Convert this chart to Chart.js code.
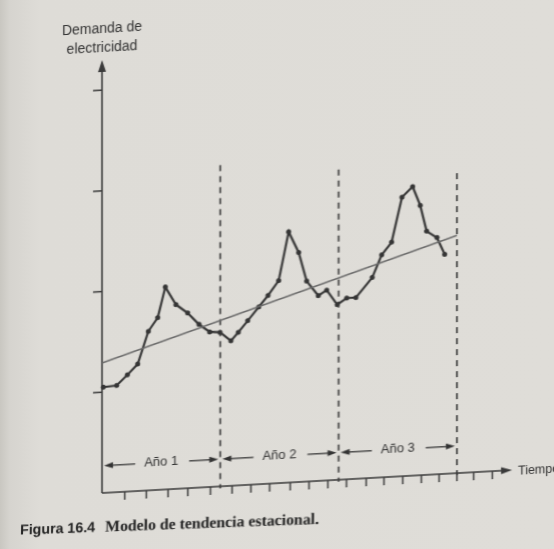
<!DOCTYPE html>
<html><head><meta charset="utf-8">
<script src="https://cdn.jsdelivr.net/npm/chart.js@4/dist/chart.umd.min.js"></script>
<style>
html,body{margin:0;padding:0;overflow:hidden;width:554px;height:549px;
background:linear-gradient(90deg,#c9c7c1 0px,#d6d4cf 10px,#dedcd7 40px,#dfddd8 100%);}
#wrap{position:absolute;left:0;top:0;width:554px;height:549px;transform-origin:102px 0;transform:skewY(-3.2deg);}
canvas{display:block;}
</style></head><body>
<div id="wrap"><canvas id="c" width="554" height="549"></canvas></div>
<script>
// Months since start (x) and electricity demand (y)
const months = [0.13,1.49,2.57,3.62,4.70,5.65,6.42,7.50,8.69,9.84,10.92,11.97,
                13.08,13.82,14.78,15.90,16.84,17.92,18.93,19.95,20.76,21.94,22.79,23.86,
                24.82,25.76,27.41,28.37,29.38,30.43,31.51,32.28,32.93,33.98,34.76];
const demand = [1.05,1.06,1.16,1.26,1.58,1.71,2.01,1.83,1.74,1.62,1.54,1.53,
                1.44,1.52,1.63,1.76,1.87,2.01,2.49,2.28,1.99,1.84,1.89,1.74,
                1.80,1.80,1.99,2.21,2.33,2.77,2.87,2.68,2.42,2.35,2.18];
const trendMonths = [0,36];
const trendValues = [1.29,2.36];
const yearBounds = [0,12,24,36];
const yearLabels = ['Año 1','Año 2','Año 3'];
const boundaryTops = [3.19,3.08,2.98];
const xTickMonths = [2.3,4.5,6.7,8.7,11,13.2,15.1,17,19.1,21,22.9,24.8,26.8,28.6,30.5,32.4,34.2,36,37.7,39.6];
const yTickValues = [1,2,3,4];
const yAxisTitle = ['Demanda de','electricidad'];
const xAxisTitle = 'Tiempo';
const captionBold = 'Figura 16.4';
const captionText = 'Modelo de tendencia estacional.';

const INK = '#353535';

function arrowHead(ctx, x, y, dir, len, hw){
  ctx.beginPath();
  if (dir === 'right'){ ctx.moveTo(x,y); ctx.lineTo(x-len,y-hw); ctx.lineTo(x-len,y+hw); }
  else if (dir === 'left'){ ctx.moveTo(x,y); ctx.lineTo(x+len,y-hw); ctx.lineTo(x+len,y+hw); }
  else { ctx.moveTo(x,y); ctx.lineTo(x-hw,y+len); ctx.lineTo(x+hw,y+len); }
  ctx.closePath(); ctx.fill();
}
function fitFont(ctx, text, family, weight, targetW){
  ctx.font = weight + ' 20px ' + family;
  const s = 20 * targetW / ctx.measureText(text).width;
  ctx.font = weight + ' ' + s.toFixed(2) + 'px ' + family;
}

const decor = {
  id:'decor',
  beforeDatasetsDraw(chart){
    const ctx = chart.ctx, xs = chart.scales.x, ys = chart.scales.y;
    const x0 = xs.getPixelForValue(0), y0 = ys.getPixelForValue(0);
    ctx.save();
    ctx.strokeStyle = '#333'; ctx.lineWidth = 1.6; ctx.setLineDash([6,5]);
    yearBounds.slice(1).forEach((b,i)=>{
      const px = xs.getPixelForValue(b);
      ctx.beginPath(); ctx.moveTo(px, ys.getPixelForValue(boundaryTops[i])); ctx.lineTo(px, y0+2); ctx.stroke();
    });
    ctx.setLineDash([]);
    ctx.strokeStyle = '#3a3a3a'; ctx.fillStyle = '#3a3a3a'; ctx.lineWidth = 1.6;
    ctx.beginPath(); ctx.moveTo(x0, y0); ctx.lineTo(x0, chart.chartArea.top+6); ctx.stroke();
    arrowHead(ctx, x0, chart.chartArea.top, 'up', 12, 4);
    const xEnd = xs.getPixelForValue(41.6);
    ctx.beginPath(); ctx.moveTo(x0, y0); ctx.lineTo(xEnd-8, y0); ctx.stroke();
    arrowHead(ctx, xEnd, y0, 'right', 11, 3.5);
    ctx.lineWidth = 1.5;
    xTickMonths.forEach(m=>{
      const px = xs.getPixelForValue(m);
      ctx.beginPath(); ctx.moveTo(px, y0); ctx.lineTo(px, y0+8); ctx.stroke();
    });
    yTickValues.forEach(v=>{
      const py = ys.getPixelForValue(v);
      ctx.beginPath(); ctx.moveTo(x0-9, py); ctx.lineTo(x0, py); ctx.stroke();
    });
    ctx.restore();
  },
  afterDraw(chart){
    const ctx = chart.ctx, xs = chart.scales.x, ys = chart.scales.y;
    const x0 = xs.getPixelForValue(0), y0 = ys.getPixelForValue(0);
    ctx.save();
    ctx.fillStyle = '#333'; ctx.strokeStyle = '#3a3a3a';
    const sans = '"Liberation Sans", Arial, sans-serif';
    ctx.font = '14px ' + sans;
    ctx.textAlign = 'center'; ctx.textBaseline = 'alphabetic';
    ctx.fillText(yAxisTitle[0], x0, 33);
    ctx.fillText(yAxisTitle[1], x0, 52);
    ctx.textAlign = 'left'; ctx.textBaseline = 'middle';
    ctx.font = '12.5px ' + sans;
    ctx.fillText(xAxisTitle, xs.getPixelForValue(42.2), y0+2);
    ctx.font = '13px ' + sans;
    ctx.textAlign = 'center';
    const yy = ys.getPixelForValue(0.27);
    ctx.lineWidth = 1.3;
    yearLabels.forEach((lab,i)=>{
      const a = xs.getPixelForValue(yearBounds[i]) + 2;
      const b = xs.getPixelForValue(yearBounds[i+1]) - 2;
      const mid = (a+b)/2;
      const w = ctx.measureText(lab).width;
      ctx.fillText(lab, mid, yy);
      const l1 = mid - w/2 - 9, r1 = mid + w/2 + 11;
      ctx.beginPath(); ctx.moveTo(a+6, yy); ctx.lineTo(l1, yy); ctx.stroke();
      arrowHead(ctx, a, yy, 'left', 9, 3);
      ctx.beginPath(); ctx.moveTo(r1, yy); ctx.lineTo(b-6, yy); ctx.stroke();
      arrowHead(ctx, b, yy, 'right', 9, 3);
    });
    // caption
    ctx.translate(20, 530);
    ctx.rotate(0.02);
    ctx.textAlign = 'left'; ctx.textBaseline = 'alphabetic';
    ctx.fillStyle = '#222';
    fitFont(ctx, captionBold, sans, 'bold', 75);
    ctx.fillText(captionBold, 0, 0);
    fitFont(ctx, captionText, '"Liberation Serif", "DejaVu Serif", serif', 'bold', 214);
    ctx.fillText(captionText, 85, 0);
    ctx.restore();
  }
};

new Chart(document.getElementById('c'), {
  type:'line',
  data:{
    datasets:[
      { label:'Tendencia', data: trendMonths.map((m,i)=>({x:m,y:trendValues[i]})),
        borderColor:'#6a6a6a', borderWidth:1.6, pointRadius:0, tension:0 },
      { label:'Demanda', data: months.map((m,i)=>({x:m,y:demand[i]})),
        borderColor:INK, backgroundColor:INK, borderWidth:2.2, pointRadius:2.5,
        pointBackgroundColor:INK, pointBorderWidth:0, tension:0 }
    ]
  },
  options:{
    responsive:false, devicePixelRatio:1, animation:false,
    layout:{padding:{left:102, right:38, top:60, bottom:56}},
    scales:{
      x:{type:'linear', min:0, max:42, display:false},
      y:{type:'linear', min:0, max:4.3, display:false}
    },
    plugins:{legend:{display:false}, tooltip:{enabled:false}},
    clip:false
  },
  plugins:[decor]
});
</script>
</body></html>
